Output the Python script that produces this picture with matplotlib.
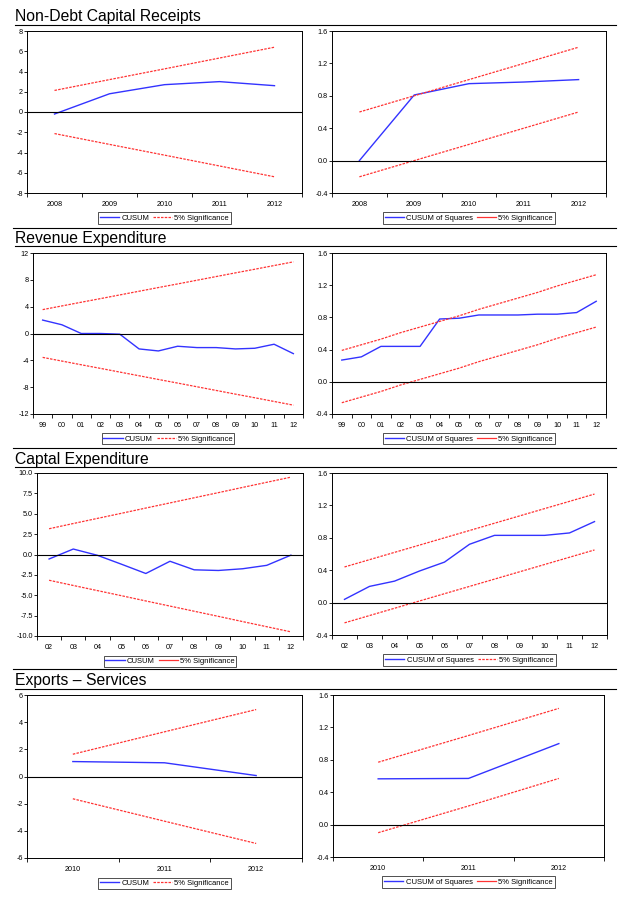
import numpy as np
import matplotlib
matplotlib.use("Agg")
import matplotlib.pyplot as plt
from matplotlib.lines import Line2D

plt.rcParams['font.family'] = ['Liberation Sans', 'DejaVu Sans']

W, H = 625, 906

# ---- data ----
ndcr_years = ['2008', '2009', '2010', '2011', '2012']
ndcr_cusum = [-0.2, 1.8, 2.7, 3.0, 2.6]
ndcr_cusum_up = [2.13, 3.2, 4.26, 5.33, 6.4]
ndcr_cusum_lo = [-2.13, -3.2, -4.26, -5.33, -6.4]
ndcr_sq = [0.0, 0.81, 0.95, 0.97, 1.0]
ndcr_sq_up = [0.6, 0.8, 1.0, 1.2, 1.4]
ndcr_sq_lo = [-0.2, 0.0, 0.2, 0.4, 0.6]

rev_years = ['99', '00', '01', '02', '03', '04', '05', '06', '07', '08', '09', '10', '11', '12']
rev_cusum = [2.0, 1.3, 0.0, 0.0, -0.1, -2.3, -2.6, -1.9, -2.1, -2.1, -2.3, -2.2, -1.6, -3.0]
rev_cusum_up = [3.56, 4.11, 4.66, 5.20, 5.75, 6.30, 6.85, 7.39, 7.94, 8.49, 9.04, 9.58, 10.13, 10.68]
rev_cusum_lo = [-3.56, -4.11, -4.66, -5.20, -5.75, -6.30, -6.85, -7.39, -7.94, -8.49, -9.04, -9.58, -10.13, -10.68]
rev_sq = [0.27, 0.31, 0.44, 0.44, 0.44, 0.78, 0.79, 0.83, 0.83, 0.83, 0.84, 0.84, 0.86, 1.0]
rev_sq_up = [0.39, 0.46, 0.53, 0.61, 0.68, 0.75, 0.82, 0.90, 0.97, 1.04, 1.11, 1.19, 1.26, 1.33]
rev_sq_lo = [-0.26, -0.19, -0.12, -0.04, 0.03, 0.10, 0.17, 0.25, 0.32, 0.39, 0.46, 0.54, 0.61, 0.68]

cap_years = ['02', '03', '04', '05', '06', '07', '08', '09', '10', '11', '12']
cap_cusum = [-0.55, 0.67, -0.1, -1.2, -2.33, -0.83, -1.88, -1.96, -1.75, -1.33, -0.08]
cap_cusum_up = [3.16, 3.80, 4.43, 5.06, 5.70, 6.33, 6.96, 7.59, 8.23, 8.86, 9.49]
cap_cusum_lo = [-3.16, -3.80, -4.43, -5.06, -5.70, -6.33, -6.96, -7.59, -8.23, -8.86, -9.49]
cap_sq = [0.04, 0.2, 0.265, 0.39, 0.5, 0.72, 0.83, 0.83, 0.83, 0.86, 1.0]
cap_sq_up = [0.44, 0.53, 0.62, 0.71, 0.80, 0.89, 0.98, 1.07, 1.16, 1.25, 1.34]
cap_sq_lo = [-0.25, -0.16, -0.07, 0.02, 0.11, 0.20, 0.29, 0.38, 0.47, 0.56, 0.65]

exp_years = ['2010', '2011', '2012']
exp_cusum = [1.1, 1.01, 0.07]
exp_cusum_up = [1.64, 3.29, 4.93]
exp_cusum_lo = [-1.64, -3.29, -4.93]
exp_sq = [0.565, 0.57, 1.0]
exp_sq_up = [0.77, 1.10, 1.435]
exp_sq_lo = [-0.1, 0.23, 0.57]

titles = ['Non-Debt Capital Receipts', 'Revenue Expenditure', 'Captal Expenditure', 'Exports \u2013 Services']

BLUE = '#3333ff'
RED = '#ff3333'

fig = plt.figure(figsize=(W / 100, H / 100), dpi=100)


def box(x0, y0, x1, y1):
    return [x0 / W, 1 - y1 / H, (x1 - x0) / W, (y1 - y0) / H]


def hline(y, x0, x1):
    fig.add_artist(Line2D([x0 / W, x1 / W], [1 - y / H, 1 - y / H], color='black', lw=0.8,
                          transform=fig.transFigure))


def panel(rect, labels, line, up, lo, ylim, yticks, yfmt, name, legend_style):
    ax = fig.add_axes(rect)
    x = np.arange(len(labels))
    ax.plot(x, line, color=BLUE, lw=1.0)
    ax.plot(x, up, color=RED, lw=0.9, ls=(0, (2, 1)))
    ax.plot(x, lo, color=RED, lw=0.9, ls=(0, (2, 1)))
    ax.axhline(0, color='black', lw=0.8)
    ax.set_xlim(-0.5, len(labels) - 0.5)
    ax.set_ylim(*ylim)
    ax.set_xticks(x)
    ax.set_xticklabels(labels)
    ax.set_xticks(np.arange(-0.5, len(labels), 1), minor=True)
    ax.tick_params(axis='x', which='major', length=0, labelsize=5.2, pad=6)
    ax.tick_params(axis='x', which='minor', length=3, width=0.6, direction='out')
    ax.set_yticks(yticks)
    ax.set_yticklabels([yfmt.format(v) for v in yticks])
    ax.tick_params(axis='y', length=2, width=0.6, direction='out', labelsize=5.2, pad=1)
    for s in ax.spines.values():
        s.set_linewidth(0.7)
    handles = [Line2D([], [], color=BLUE, lw=1.0),
               Line2D([], [], color=RED, lw=0.9, ls=legend_style)]
    leg = ax.legend(handles, [name, '5% Significance'], loc='upper center',
                    bbox_to_anchor=(0.5, -0.12), ncol=2, fontsize=5.5, frameon=True,
                    fancybox=False, edgecolor='black', borderpad=0.25, handlelength=2.5,
                    columnspacing=0.5, handletextpad=0.3, borderaxespad=0)
    leg.get_frame().set_linewidth(0.6)
    return ax


dot = (0, (2, 1))

# row 1
fig.text(15 / W, 1 - 16 / H, titles[0], fontsize=11.3, va='center', ha='left')
hline(25, 15, 616)
panel(box(27, 31, 302, 193), ndcr_years, ndcr_cusum, ndcr_cusum_up, ndcr_cusum_lo,
      (-8, 8), np.arange(-8, 9, 2), '{:.0f}', 'CUSUM', dot)
panel(box(332, 31, 606, 193), ndcr_years, ndcr_sq, ndcr_sq_up, ndcr_sq_lo,
      (-0.4, 1.6), np.arange(-0.4, 1.61, 0.4), '{:.1f}', 'CUSUM of Squares', '-')
hline(228, 13, 616)

# row 2
fig.text(15 / W, 1 - 238 / H, titles[1], fontsize=11.3, va='center', ha='left')
hline(246, 15, 616)
panel(box(33, 253, 303, 414), rev_years, rev_cusum, rev_cusum_up, rev_cusum_lo,
      (-12, 12), np.arange(-12, 13, 4), '{:.0f}', 'CUSUM', dot)
panel(box(332, 253, 606, 414), rev_years, rev_sq, rev_sq_up, rev_sq_lo,
      (-0.4, 1.6), np.arange(-0.4, 1.61, 0.4), '{:.1f}', 'CUSUM of Squares', '-')
hline(448, 13, 616)

# row 3
fig.text(15 / W, 1 - 459 / H, titles[2], fontsize=11.3, va='center', ha='left')
hline(467, 15, 616)
panel(box(37, 473, 303, 636), cap_years, cap_cusum, cap_cusum_up, cap_cusum_lo,
      (-10, 10), np.arange(-10, 10.1, 2.5), '{:.1f}', 'CUSUM', '-')
panel(box(332, 473, 607, 635), cap_years, cap_sq, cap_sq_up, cap_sq_lo,
      (-0.4, 1.6), np.arange(-0.4, 1.61, 0.4), '{:.1f}', 'CUSUM of Squares', dot)
hline(669, 13, 616)

# row 4
fig.text(15 / W, 1 - 680 / H, titles[3], fontsize=11.3, va='center', ha='left')
hline(689, 15, 616)
panel(box(27, 695, 302, 858), exp_years, exp_cusum, exp_cusum_up, exp_cusum_lo,
      (-6, 6), np.arange(-6, 7, 2), '{:.0f}', 'CUSUM', dot)
panel(box(333, 695, 604, 857), exp_years, exp_sq, exp_sq_up, exp_sq_lo,
      (-0.4, 1.6), np.arange(-0.4, 1.61, 0.4), '{:.1f}', 'CUSUM of Squares', '-')

fig.savefig('out.png', dpi=100)
